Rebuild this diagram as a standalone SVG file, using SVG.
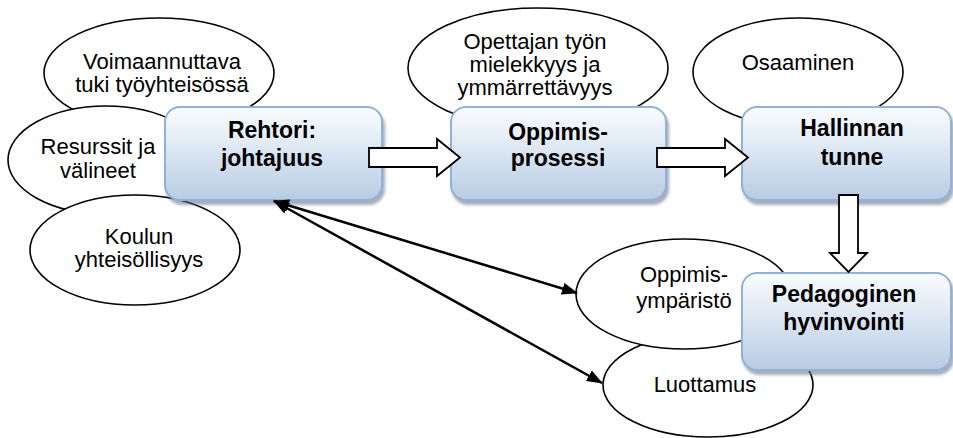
<svg xmlns="http://www.w3.org/2000/svg" width="953" height="438" viewBox="0 0 953 438">
<defs>
<linearGradient id="boxg" x1="0" y1="0" x2="0" y2="1">
<stop offset="0" stop-color="#fafcfe"/>
<stop offset="0.45" stop-color="#dde7f3"/>
<stop offset="1" stop-color="#b8cce4"/>
</linearGradient>
<filter id="sh" x="-10%" y="-10%" width="130%" height="140%">
<feDropShadow dx="2" dy="4" stdDeviation="1.5" flood-color="#5a6a80" flood-opacity="0.55"/>
</filter>
<marker id="ah" viewBox="0 0 16 12" refX="15" refY="6" markerWidth="16" markerHeight="12" markerUnits="userSpaceOnUse" orient="auto-start-reverse">
<path d="M0,0 L16,6 L0,12 Z" fill="#000"/>
</marker>
</defs>
<style>
.ell{fill:#fff;stroke:#000;stroke-width:1.6}
.box{fill:url(#boxg);stroke:#93b1d6;stroke-width:2;filter:url(#sh)}
.t{font-family:"Liberation Sans",Arial,sans-serif;font-size:22px;fill:#000;text-anchor:middle}
.b{font-family:"Liberation Sans",Arial,sans-serif;font-size:23px;font-weight:bold;fill:#000;text-anchor:middle}
.blk{fill:#fff;stroke:#000;stroke-width:1.8;stroke-linejoin:miter}
.ln{fill:none;stroke:#000;stroke-width:2.5}
</style>

<g id="voimaannuttava">
<ellipse class="ell" cx="159" cy="73" rx="115" ry="55"/>
<text class="t" x="162" y="69">Voimaannuttava</text>
<text class="t" x="162" y="92">tuki työyhteisössä</text>
</g>
<g id="resurssit">
<ellipse class="ell" cx="106" cy="160" rx="98" ry="54"/>
<text class="t" x="98" y="154">Resurssit ja</text>
<text class="t" x="98" y="178">välineet</text>
</g>
<g id="koulun">
<ellipse class="ell" cx="135" cy="250" rx="105" ry="55"/>
<text class="t" x="139" y="244">Koulun</text>
<text class="t" x="139" y="267">yhteisöllisyys</text>
</g>
<g id="opettajan">
<ellipse class="ell" cx="538" cy="68" rx="130" ry="60"/>
<text class="t" x="535" y="49">Opettajan työn</text>
<text class="t" x="535" y="72">mielekkyys ja</text>
<text class="t" x="535" y="95">ymmärrettävyys</text>
</g>
<g id="osaaminen">
<ellipse class="ell" cx="798" cy="72" rx="105" ry="54"/>
<text class="t" x="798" y="70">Osaaminen</text>
</g>
<g id="luottamus">
<ellipse class="ell" cx="708" cy="385" rx="105" ry="52"/>
<text class="t" x="705" y="392">Luottamus</text>
</g>
<g id="oppimisymparisto">
<ellipse class="ell" cx="684" cy="294" rx="108" ry="55"/>
<text class="t" x="684" y="282">Oppimis-</text>
<text class="t" x="684" y="308">ympäristö</text>
</g>

<g id="rehtori">
<rect class="box" x="165" y="107" width="217" height="93" rx="15"/>
<text class="b" x="272" y="138">Rehtori:</text>
<text class="b" x="272" y="166">johtajuus</text>
</g>
<g id="oppimisprosessi">
<rect class="box" x="451" y="107" width="215" height="93" rx="15"/>
<text class="b" x="558" y="140">Oppimis-</text>
<text class="b" x="558" y="166">prosessi</text>
</g>
<g id="hallinnan">
<rect class="box" x="742" y="107" width="209" height="93" rx="15"/>
<text class="b" x="852" y="136">Hallinnan</text>
<text class="b" x="852" y="165">tunne</text>
</g>
<g id="pedagoginen">
<rect class="box" x="742" y="273" width="209" height="97" rx="15"/>
<text class="b" x="844" y="302">Pedagoginen</text>
<text class="b" x="844" y="330">hyvinvointi</text>
</g>

<g id="connectors">
<path class="blk" d="M369,148 H437 V139 L460,157.5 L437,176 V167 H369 Z"/>
<path class="blk" d="M657,148 H725 V139 L748,157.5 L725,176 V167 H657 Z"/>
<path class="blk" d="M839,195 V253 H830 L848.5,272 L867,253 H858 V195 Z"/>
<line class="ln" x1="274" y1="201" x2="577" y2="293" marker-start="url(#ah)" marker-end="url(#ah)"/>
<line class="ln" x1="274" y1="201" x2="602" y2="383" marker-start="url(#ah)" marker-end="url(#ah)"/>
</g>
</svg>
